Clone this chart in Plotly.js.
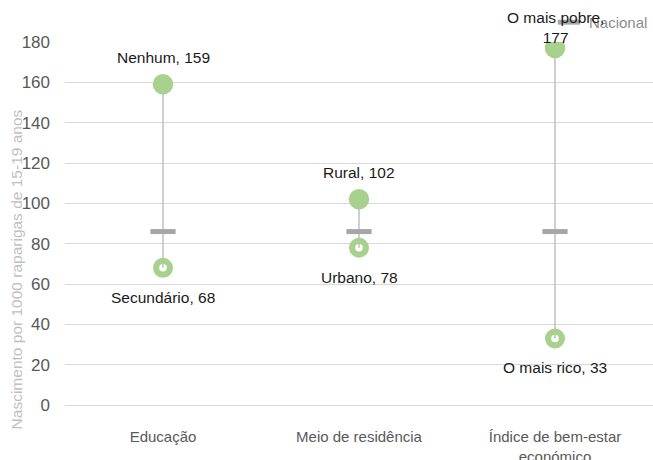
<!DOCTYPE html>
<html>
<head>
<meta charset="utf-8">
<script src="https://cdn.plot.ly/plotly-3.0.1.min.js"></script>
<style>
  html, body { margin: 0; padding: 0; background: #fff; }
  #chart { width: 653px; height: 460px; }
</style>
</head>
<body>
<div id="chart"></div>
<script>
// Adolescent birth rate gaps by background characteristic
const categories = ['Educação', 'Meio de residência', 'Índice de bem-estar<br>económico'];
const highLabels = ['Nenhum', 'Rural', 'O mais pobre'];
const highValues = [159, 102, 177];
const lowLabels = ['Secundário', 'Urbano', 'O mais rico'];
const lowValues = [68, 78, 33];
const nationalValues = [86, 86, 86];
const nationalName = 'Nacional';
const yTitle = 'Nascimento por 1000 raparigas de 15-19 anos';
const yTicks = [0, 20, 40, 60, 80, 100, 120, 140, 160, 180];

const FONT = '"Liberation Sans", Arial, sans-serif';
const GREEN = '#a9d18e';
const GREY_LINE = '#bfbfbf';
const GREY_MARK = '#a6a6a6';

// connector segments between the two groups of each category
const segX = [], segY = [];
categories.forEach((c, i) => {
  segX.push(c, c, null);
  segY.push(highValues[i], lowValues[i], null);
});

const traces = [
  {
    type: 'scatter', mode: 'lines', x: segX, y: segY,
    line: { color: GREY_LINE, width: 1.5 },
    hoverinfo: 'skip', showlegend: false
  },
  {
    type: 'scatter', mode: 'markers', name: nationalName,
    x: categories, y: nationalValues,
    marker: { symbol: 'line-ew', size: 18, color: GREY_MARK, line: { color: GREY_MARK, width: 5 } },
    showlegend: true
  },
  {
    type: 'scatter', mode: 'markers', x: categories, y: highValues,
    marker: { symbol: 'circle', size: 20.5, color: GREEN },
    showlegend: false
  },
  {
    type: 'scatter', mode: 'markers', x: categories, y: lowValues,
    marker: { symbol: 'circle-open', size: 13.75, color: GREEN, line: { color: GREEN, width: 6.25 } },
    showlegend: false
  }
];

// data labels: above the filled point, below the open point
const highSep = [' ', ' ', '<br>'];
const highShift = [16, 16, 0];
const annotations = [];
categories.forEach((c, i) => {
  annotations.push({
    x: c, y: highValues[i], xref: 'x', yref: 'y',
    text: highLabels[i] + ',' + highSep[i] + highValues[i],
    showarrow: false, yanchor: 'bottom', yshift: highShift[i],
    font: { family: FONT, size: 15.5, color: '#1a1a1a' }
  });
  annotations.push({
    x: c, y: lowValues[i], xref: 'x', yref: 'y',
    text: lowLabels[i] + ', ' + lowValues[i],
    showarrow: false, yanchor: 'top', yshift: -19,
    font: { family: FONT, size: 15.5, color: '#1a1a1a' }
  });
});
annotations.push({
  x: -0.082, y: 0.373, xref: 'paper', yref: 'paper',
  text: yTitle, textangle: -90, showarrow: false,
  xanchor: 'center', yanchor: 'middle',
  font: { family: FONT, size: 15.5, color: '#bfbfbf' }
});

const layout = {
  width: 653, height: 460,
  margin: { l: 65, r: 0, t: 42, b: 55 },
  paper_bgcolor: '#fff', plot_bgcolor: '#fff',
  font: { family: FONT, size: 15, color: '#595959' },
  xaxis: {
    type: 'category', range: [-0.5, 2.5],
    showgrid: false, zeroline: false, showline: false, ticks: '',
    ticklabelstandoff: 21,
    tickfont: { family: FONT, size: 15, color: '#595959' }
  },
  yaxis: {
    range: [0, 180], tickvals: yTicks, ticktext: yTicks.map(String),
    showgrid: true, gridcolor: '#d9d9d9', gridwidth: 1,
    zeroline: true, zerolinecolor: '#d9d9d9', zerolinewidth: 1,
    showline: false, ticks: '', ticklabelstandoff: 14,
    tickfont: { family: FONT, size: 17, color: '#595959' }
  },
  showlegend: true,
  legend: {
    x: 1, xanchor: 'right', y: 1.054, yanchor: 'middle',
    bgcolor: 'rgba(0,0,0,0)', itemwidth: 30,
    font: { family: FONT, size: 15, color: '#8c8c8c' }
  },
  annotations: annotations
};

Plotly.newPlot('chart', traces, layout, { displayModeBar: false, staticPlot: true });
</script>
</body>
</html>
